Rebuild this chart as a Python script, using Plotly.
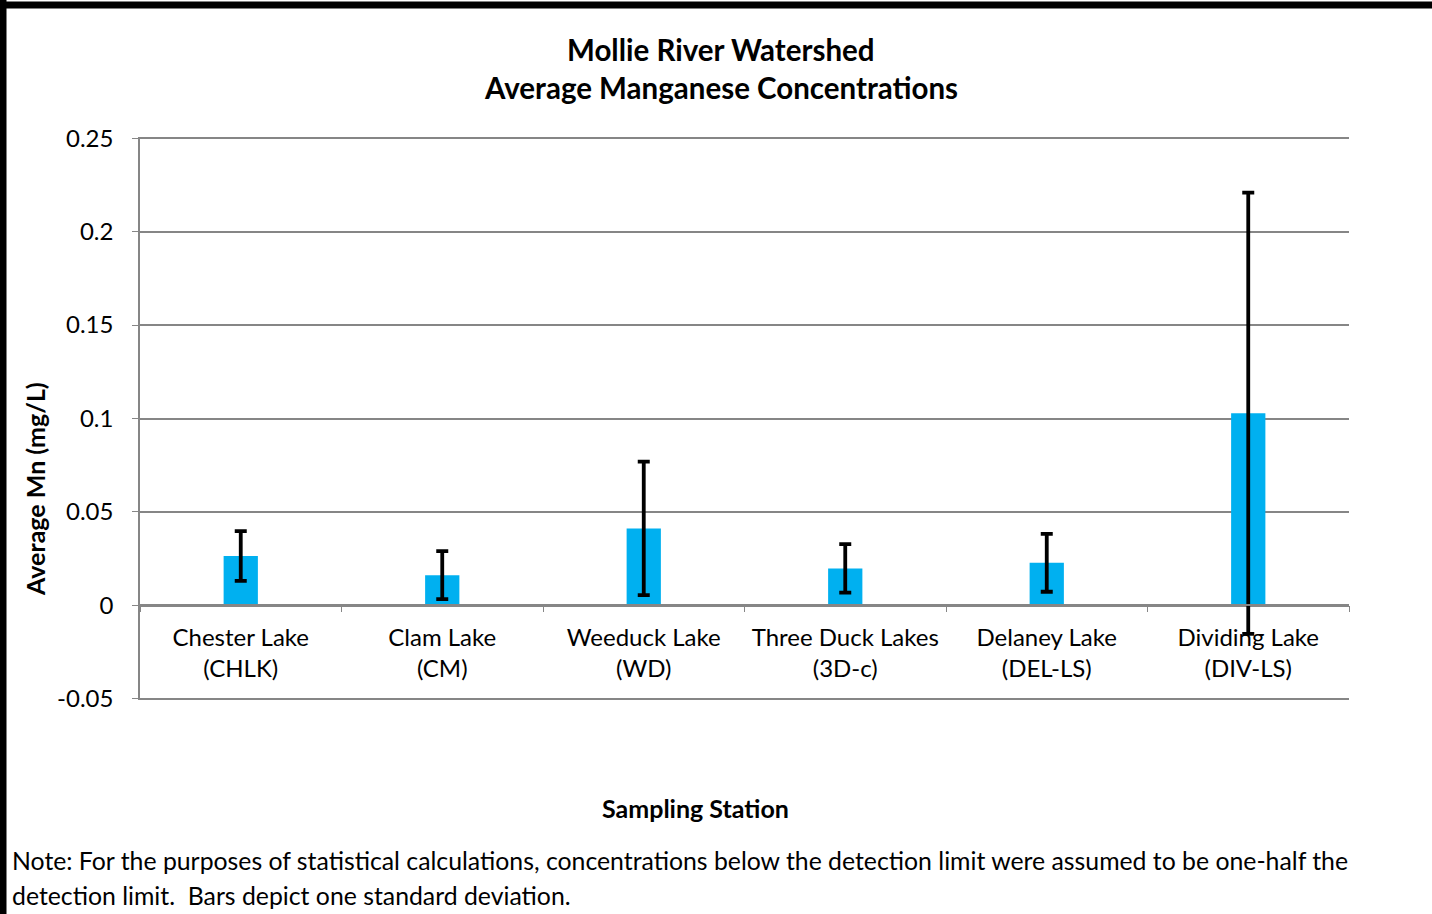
import plotly.graph_objects as go

stations = ["Chester Lake<br>(CHLK)", "Clam Lake<br>(CM)", "Weeduck Lake<br>(WD)",
            "Three Duck Lakes<br>(3D-c)", "Delaney Lake<br>(DEL-LS)", "Dividing Lake<br>(DIV-LS)"]
mean_mn = [0.0264, 0.0162, 0.0412, 0.0198, 0.0228, 0.1028]
sd_mn = [0.0133, 0.0128, 0.0357, 0.0130, 0.0155, 0.1180]
y_ticks = [-0.05, 0, 0.05, 0.1, 0.15, 0.2, 0.25]
y_tick_text = ["-0.05", "0", "0.05", "0.1", "0.15", "0.2", "0.25"]

FONT = "Lato"
W, H = 1432, 914
L, R, T, B = 140, 83, 137, 214
pw, ph = W - L - R, H - T - B

def px(x):
    return (x - L) / pw

def py(y):
    return (H - B - y) / ph

fig = go.Figure()
fig.add_trace(go.Bar(
    x=stations, y=mean_mn,
    marker=dict(color="#00B0F0", line=dict(width=0)),
    error_y=dict(type="data", array=sd_mn, visible=True, color="black",
                 thickness=3.8, width=6),
))

fig.update_layout(
    width=W, height=H,
    margin=dict(l=L, r=R, t=T, b=B),
    paper_bgcolor="white", plot_bgcolor="white",
    showlegend=False,
    bargap=0.83,
    font=dict(family=FONT, size=24, color="black"),
    xaxis=dict(
        type="category", anchor="free", position=0.0506 / 0.3012,
        showline=True, linecolor="#868686", linewidth=2,
        ticks="outside", tickson="boundaries", ticklen=6, tickcolor="#868686",
        tickfont=dict(family=FONT, size=24, color="black"),
        ticklabelstandoff=11,
        showgrid=False,
    ),
    yaxis=dict(
        range=[-0.0506, 0.2506], tickvals=y_ticks, ticktext=y_tick_text,
        showline=True, linecolor="#868686", linewidth=1.5,
        ticks="outside", ticklen=6, tickcolor="#868686",
        gridcolor="#868686", gridwidth=1.5,
        zeroline=True, zerolinecolor="#868686", zerolinewidth=2.5,
        tickfont=dict(family=FONT, size=24, color="black"),
        ticklabelstandoff=14,
    ),
)

annotations = [
    dict(text="<b>Mollie River Watershed</b>", x=px(721), y=py(49), xanchor="center", yanchor="middle",
         font=dict(size=29.5)),
    dict(text="<b>Average Manganese Concentrations</b>", x=px(721), y=py(88), xanchor="center", yanchor="middle",
         font=dict(size=29.5)),
    dict(text="<b>Average Mn (mg/L)</b>", x=px(35), y=py(489), xanchor="center", yanchor="middle",
         textangle=-90, font=dict(size=25)),
    dict(text="<b>Sampling Station</b>", x=px(695), y=py(808), xanchor="center", yanchor="middle",
         font=dict(size=25)),
    dict(text="Note: For the purposes of statistical calculations, concentrations below the detection limit were assumed to be one-half the",
         x=px(10), y=py(860), xanchor="left", yanchor="middle", font=dict(size=24.8)),
    dict(text="detection limit.  Bars depict one standard deviation.",
         x=px(10), y=py(895), xanchor="left", yanchor="middle", font=dict(size=24.8)),
]
for a in annotations:
    a.update(xref="paper", yref="paper", showarrow=False)
fig.update_layout(annotations=annotations)

fig.update_layout(shapes=[
    dict(type="line", xref="paper", yref="paper", x0=px(0), x1=px(W), y0=py(5), y1=py(5),
         line=dict(color="black", width=7)),
    dict(type="line", xref="paper", yref="paper", x0=px(3), x1=px(3), y0=py(0), y1=py(H),
         line=dict(color="black", width=7)),
])

fig.write_html("out.html", config={"displayModeBar": False},
               post_script="document.body.style.margin='0';document.body.style.overflow='hidden';")
